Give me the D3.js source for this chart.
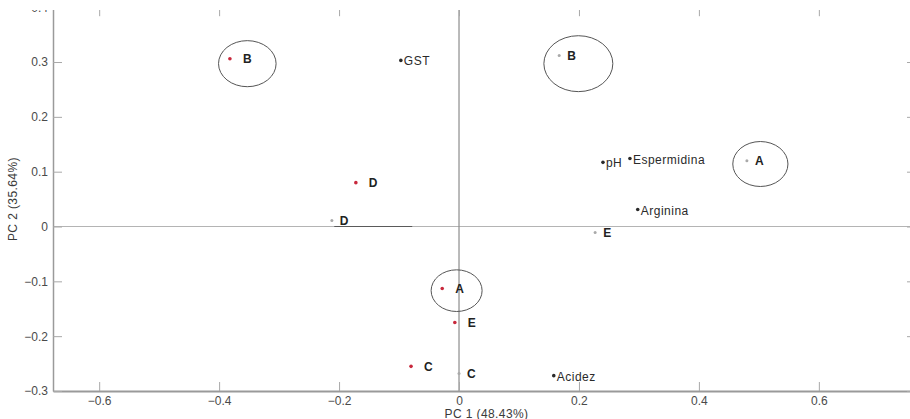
<!DOCTYPE html>
<html>
<head>
<meta charset="utf-8">
<script src="https://cdn.jsdelivr.net/npm/d3@7"></script>
<style>
  html, body { margin: 0; padding: 0; background: #fff; }
  svg { display: block; }
  text { font-family: "Liberation Sans", Arial, sans-serif; }
</style>
</head>
<body>
<svg id="chart" width="910" height="419"></svg>
<script>
// Sample scores, first set (red markers)
const scoreLabelsA = ["B", "D", "A", "E", "C"];
const scoreXA = [-0.382, -0.172, -0.028, -0.007, -0.080];
const scoreYA = [0.306, 0.080, -0.113, -0.175, -0.255];

// Sample scores, second set (grey markers)
const scoreLabelsB = ["B", "A", "E", "D", "C"];
const scoreXB = [0.167, 0.480, 0.227, -0.212, 0.000];
const scoreYB = [0.312, 0.120, -0.011, 0.011, -0.268];

// Variable loadings
const varNames = ["GST", "pH", "Espermidina", "Arginina", "Acidez"];
const varX = [-0.097, 0.240, 0.285, 0.298, 0.158];
const varY = [0.303, 0.117, 0.124, 0.031, -0.272];

// Group ellipses (centre and semi-axes, in PC units)
const ellCX = [-0.353, 0.199, 0.5025, -0.004];
const ellCY = [0.297, 0.297, 0.114, -0.117];
const ellRX = [0.048, 0.0575, 0.046, 0.0425];
const ellRY = [0.042, 0.051, 0.041, 0.038];

// Short segment drawn along PC 2 = 0
const segX = [-0.208, -0.078];

// Axis ticks and titles
const xTicks = [-0.6, -0.4, -0.2, 0, 0.2, 0.4, 0.6];
const yTicks = [-0.3, -0.2, -0.1, 0, 0.1, 0.2, 0.3, 0.4];
const xTitle = "PC 1 (48.43%)";
const yTitle = "PC 2 (35.64%)";

const svg = d3.select("#chart");
const W = 910, H = 419;

const x = d3.scaleLinear().domain([-0.677, 0.762]).range([53, 916]);
const y = d3.scaleLinear().domain([-0.3, 0.4]).range([391, 7.2]);

svg.append("defs").append("clipPath").attr("id", "view")
  .append("rect").attr("x", 0).attr("y", 10).attr("width", W).attr("height", H - 10);

const g = svg.append("g").attr("clip-path", "url(#view)");

const fmt = d => d === 0 ? "0" : d3.format(".1f")(d);

// zero reference lines
g.append("line")
  .attr("x1", x.range()[0]).attr("x2", x.range()[1])
  .attr("y1", y(0)).attr("y2", y(0))
  .attr("stroke", "#b4b4b4").attr("stroke-width", 1.2);
g.append("line")
  .attr("x1", x(0)).attr("x2", x(0))
  .attr("y1", y.range()[0]).attr("y2", y.range()[1])
  .attr("stroke", "#8c8c8c").attr("stroke-width", 1.2);

g.append("line")
  .attr("x1", x(segX[0])).attr("x2", x(segX[1]))
  .attr("y1", y(0)).attr("y2", y(0))
  .attr("stroke", "#5a5a5a").attr("stroke-width", 1);

// axes (ticks pointing inward, box on all sides)
const tickLen = 9;
const axisBottom = d3.axisBottom(x).tickValues(xTicks).tickFormat(fmt).tickSizeInner(-tickLen).tickSizeOuter(0).tickPadding(5);
const axisLeft = d3.axisLeft(y).tickValues(yTicks).tickFormat(fmt).tickSizeInner(-tickLen).tickSizeOuter(0).tickPadding(5);
const axisTop = d3.axisTop(x).tickValues(xTicks).tickFormat("").tickSizeInner(-tickLen).tickSizeOuter(0);
const axisRight = d3.axisRight(y).tickValues(yTicks).tickFormat("").tickSizeInner(-tickLen).tickSizeOuter(0);

function styleAxis(sel, lw) {
  sel.select(".domain").attr("stroke", "#9a9a9a").attr("stroke-width", lw);
  sel.selectAll(".tick line").attr("stroke", "#a8a8a8").attr("stroke-width", 1);
  sel.selectAll(".tick text").attr("fill", "#4a4a4a").attr("font-size", 12)
    .attr("font-family", "'Liberation Sans', Arial, sans-serif");
}

g.append("g").attr("transform", `translate(0,${y.range()[0]})`).call(axisBottom).call(s => styleAxis(s, 2.2));
g.append("g").attr("transform", `translate(${x.range()[0]},0)`).call(axisLeft).call(s => styleAxis(s, 1.5));
g.append("g").attr("transform", `translate(0,${y.range()[1]})`).call(axisTop).call(s => styleAxis(s, 1));
g.append("g").attr("transform", `translate(${x.range()[1]},0)`).call(axisRight).call(s => styleAxis(s, 1));

// axis titles
svg.append("text")
  .attr("x", (x.range()[0] + x.range()[1]) / 2 + 2).attr("y", 418)
  .attr("text-anchor", "middle").attr("font-size", 12).attr("fill", "#3a3a3a")
  .attr("letter-spacing", 0.4)
  .text(xTitle);
svg.append("text")
  .attr("transform", `translate(17,${(y.range()[0] + y.range()[1]) / 2}) rotate(-90)`)
  .attr("text-anchor", "middle").attr("font-size", 12).attr("fill", "#3a3a3a")
  .attr("letter-spacing", 0.4)
  .text(yTitle);

// ellipses
g.selectAll("ellipse.grp").data(d3.range(ellCX.length)).join("ellipse")
  .attr("class", "grp")
  .attr("cx", i => x(ellCX[i])).attr("cy", i => y(ellCY[i]))
  .attr("rx", i => x(ellCX[i] + ellRX[i]) - x(ellCX[i]))
  .attr("ry", i => y(ellCY[i]) - y(ellCY[i] + ellRY[i]))
  .attr("fill", "none").attr("stroke", "#555").attr("stroke-width", 1);

// sample scores, first set
const setA = d3.range(scoreLabelsA.length);
g.selectAll("circle.sa").data(setA).join("circle").attr("class", "sa")
  .attr("cx", i => x(scoreXA[i])).attr("cy", i => y(scoreYA[i]))
  .attr("r", 1.8).attr("fill", "#c8283c");
g.selectAll("text.sa").data(setA).join("text").attr("class", "sa")
  .attr("x", i => x(scoreXA[i]) + 13).attr("y", i => y(scoreYA[i]))
  .attr("dy", "0.36em").attr("font-size", 12).attr("font-weight", "bold").attr("fill", "#222")
  .text(i => scoreLabelsA[i]);

// sample scores, second set
const setB = d3.range(scoreLabelsB.length);
g.selectAll("circle.sb").data(setB).join("circle").attr("class", "sb")
  .attr("cx", i => x(scoreXB[i])).attr("cy", i => y(scoreYB[i]))
  .attr("r", 1.5).attr("fill", "#a9a9a9");
g.selectAll("text.sb").data(setB).join("text").attr("class", "sb")
  .attr("x", i => x(scoreXB[i]) + 8).attr("y", i => y(scoreYB[i]))
  .attr("dy", "0.36em").attr("font-size", 12).attr("font-weight", "bold").attr("fill", "#222")
  .text(i => scoreLabelsB[i]);

// variable loadings
const vars = d3.range(varNames.length);
g.selectAll("circle.v").data(vars).join("circle").attr("class", "v")
  .attr("cx", i => x(varX[i])).attr("cy", i => y(varY[i]))
  .attr("r", 1.8).attr("fill", "#2a2a2a");
g.selectAll("text.v").data(vars).join("text").attr("class", "v")
  .attr("x", i => x(varX[i]) + 3).attr("y", i => y(varY[i]) + 5)
  .attr("font-size", 12).attr("fill", "#2a2a2a").attr("letter-spacing", 0.5)
  .text(i => varNames[i]);
</script>
</body>
</html>
